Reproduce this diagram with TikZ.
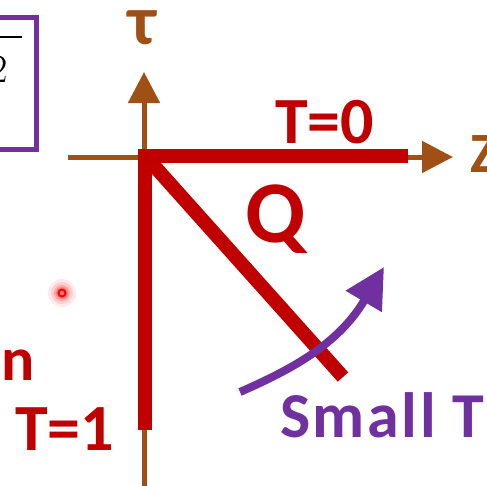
\documentclass[tikz,border=0pt]{standalone}
\usepackage{fontspec}
\setmainfont{Carlito}
\usetikzlibrary{arrows.meta,calc}
\definecolor{axbrown}{RGB}{160,80,20}
\definecolor{tred}{RGB}{192,0,0}
\definecolor{tpurple}{RGB}{112,48,160}
\tikzset{
  axis/.style={draw=axbrown, line width=5pt, -{Triangle[length=31pt,width=31pt]}},
  redline/.style={draw=tred, line width=14pt},
  redlbl/.style={text=tred, font=\bfseries\fontsize{66}{66}\selectfont, inner sep=0pt, anchor=base west},
  brownlbl/.style={text=axbrown, font=\bfseries\fontsize{57}{57}\selectfont, inner sep=0pt, anchor=base west},
  purplelbl/.style={text=tpurple, font=\bfseries\fontsize{64}{64}\selectfont\addfontfeature{LetterSpace=4}, inner sep=0pt, anchor=base west}
}
\begin{document}
\begin{tikzpicture}[x=1pt,y=-1pt]
\useasboundingbox (0,0) rectangle (487,485);
\fill[white] (0,0) rectangle (487,485);
% purple box fragment
\draw[tpurple, line width=5pt] (-20,17) -- (36,17) -- (36,149) -- (-20,149);
\draw[black, line width=2pt] (-20,37) -- (22,37);
\node[inner sep=0pt, anchor=base, font=\fontsize{40}{40}\selectfont] (two) at (-1,82) {\fontspec{Latin Modern Roman}2};
% axes
\coordinate (o) at (144,157);
\coordinate (zl) at (68,157);
\coordinate (zr) at (453,157);
\coordinate (tb) at (144,490);
\coordinate (tt) at (144,72);
\draw[axis] (zl) -- (zr);
\draw[axis] (tb) -- (tt);
% red lines
\coordinate (c) at (145,156);
\coordinate (hr) at (408,156);
\coordinate (vb) at (145,430);
\coordinate (de) at (343,377);
\draw[redline, line join=miter] (hr) -- (c) -- (vb);
\draw[redline] ($(c)+(3,3)$) -- (de);
% labels
\node[brownlbl, anchor=base, font=\bfseries\fontsize{70}{70}\selectfont] (tau) at (142,44) {τ};
\node[brownlbl] (z) at (470,172) {Z};
\node[redlbl] (t0) at (275,143) {T=0};
\node[redlbl, font=\bfseries\fontsize{88}{88}\selectfont] (q) at (245,242) {Q};
\node[redlbl] (t1) at (15,450) {T=1};
\node[redlbl, font=\bfseries\fontsize{62}{62}\selectfont] (n) at (1,380) {n};
\node[purplelbl] (st) at (280,437) {Small T};
% purple curved arrow
\coordinate (ps) at (240,392);
\coordinate (pe) at (384,267);
\draw[tpurple, line width=8pt, -{Triangle[length=40pt,width=40pt]}] (ps) .. controls (290,370) and (338,345) .. (pe);
% pointer dot
\coordinate (dot) at (62,293);
\foreach \r/\o in {14/0.08,11/0.12,8/0.18,6/0.25}{
  \fill[red, opacity=\o] (dot) circle (\r pt);
}
\draw[red, line width=2pt] (dot) circle (3.5pt);
\end{tikzpicture}
\end{document}
